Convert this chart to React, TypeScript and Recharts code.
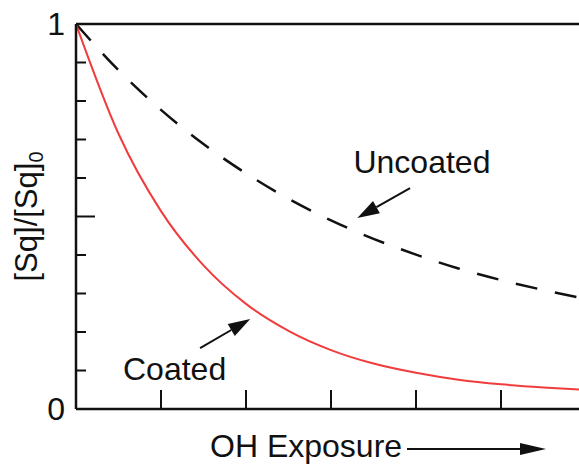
import React from 'react';
import { LineChart, Line, XAxis, YAxis, ReferenceLine, ReferenceDot } from 'recharts';

// OH exposure (arbitrary units) and normalised squalane remaining
const exposure = [0, 0.5, 1, 1.5, 2, 2.5, 3, 3.5, 4, 4.5, 5, 5.5, 6];
const uncoated = [1, 0.88, 0.777, 0.688, 0.612, 0.546, 0.49, 0.442, 0.401, 0.365, 0.335, 0.309, 0.286];
const coated = [1, 0.715, 0.514, 0.373, 0.273, 0.203, 0.153, 0.118, 0.094, 0.076, 0.064, 0.056, 0.05];

const xTicks = [0, 1, 2, 3, 4, 5, 6];
const yTicks = [0, 0.1, 0.2, 0.3, 0.4, 0.5, 0.6, 0.7, 0.8, 0.9, 1];
const yLabels: Record<string, string> = { '0': '0', '1': '1' };

const rows = exposure.map((x, i) => ({ x, uncoated: uncoated[i], coated: coated[i] }));

const FONT = '"Liberation Sans", Arial, Helvetica, sans-serif';
const INK = '#111';
const RED = '#f03c3c';

// ticks point into the plot; 0.5 gets a long one
const LeftTick = (props: any) => {
  const { x, y, payload } = props;
  const major = payload.value === 0.5;
  const label = yLabels[String(payload.value)];
  return (
    <g>
      <line x1={x} y1={y} x2={x + (major ? 19 : 10)} y2={y} stroke={INK} strokeWidth={2} />
      {label && (
        <text x={x - 11} y={y + 11} textAnchor="end" fontSize={32} fontFamily={FONT} fill={INK}>
          {label}
        </text>
      )}
    </g>
  );
};

const RightTick = (props: any) => {
  const { x, y, payload } = props;
  const major = payload.value === 0.5;
  return <line x1={x} y1={y} x2={x - (major ? 19 : 10)} y2={y} stroke={INK} strokeWidth={2} />;
};

const BottomTick = (props: any) => {
  const { x, y } = props;
  return <line x1={x} y1={y} x2={x} y2={y - 19} stroke={INK} strokeWidth={2} />;
};

const Arrow = (props: any) => {
  const { x1, y1, x2, y2 } = props;
  const dx = x2 - x1;
  const dy = y2 - y1;
  const len = Math.sqrt(dx * dx + dy * dy) || 1;
  const ux = dx / len;
  const uy = dy / len;
  const head = 22;
  const half = 7;
  const bx = x2 - ux * head;
  const by = y2 - uy * head;
  return (
    <g>
      <line x1={x1} y1={y1} x2={bx} y2={by} stroke={INK} strokeWidth={2} />
      <polygon
        points={`${x2},${y2} ${bx - uy * half},${by + ux * half} ${bx + uy * half},${by - ux * half}`}
        fill={INK}
      />
    </g>
  );
};

const textAt = (text: string) => (props: any) => (
  <text x={props.cx} y={props.cy} textAnchor="middle" fontSize={32} fontFamily={FONT} fill={INK}>
    {text}
  </text>
);

const XTitle = (props: any) => {
  const { x, y } = props.viewBox;
  const ay = y + 40;
  return (
    <g>
      <text x={x + 134} y={y + 48} fontSize={32} fontFamily={FONT} fill={INK}>
        OH Exposure
      </text>
      <line x1={x + 331} y1={ay} x2={x + 446} y2={ay} stroke={INK} strokeWidth={2} />
      <polygon points={`${x + 470},${ay} ${x + 444},${ay - 6} ${x + 444},${ay + 6}`} fill={INK} />
    </g>
  );
};

const YTitle = (props: any) => {
  const { x, y, height } = props.viewBox;
  const cx = x + 37;
  const cy = y + height / 2;
  return (
    <text
      x={cx}
      y={cy}
      transform={`rotate(-90, ${cx}, ${cy})`}
      textAnchor="middle"
      fontSize={31}
      fontFamily={FONT}
      fill={INK}
    >
      [Sq]/[Sq]
      <tspan fontSize={20} dy={6}>0</tspan>
    </text>
  );
};

export default function App() {
  const axisLine = { stroke: INK, strokeWidth: 2.5 };
  return (
    <div
      style={{
        position: 'fixed',
        left: 0,
        top: 0,
        width: 579,
        height: 466,
        overflow: 'hidden',
        background: '#fff',
      }}
    >
      <LineChart width={600} height={466} data={rows} margin={{ top: 23, right: 0, bottom: 0, left: 0 }}>
        <XAxis
          xAxisId="b"
          dataKey="x"
          type="number"
          domain={[0, 6]}
          ticks={xTicks}
          height={57}
          axisLine={axisLine}
          tickLine={false}
          tickSize={0}
          tickMargin={0}
          tick={<BottomTick />}
          label={{ content: XTitle }}
        />
        <XAxis
          xAxisId="t"
          orientation="top"
          dataKey="x"
          type="number"
          domain={[0, 6]}
          height={1}
          axisLine={axisLine}
          tickLine={false}
          tick={false}
        />
        <YAxis
          yAxisId="l"
          type="number"
          domain={[0, 1]}
          ticks={yTicks}
          width={76}
          axisLine={axisLine}
          tickLine={false}
          tickSize={0}
          tickMargin={0}
          tick={<LeftTick />}
          label={{ content: YTitle }}
        />
        <YAxis
          yAxisId="r"
          orientation="right"
          type="number"
          domain={[0, 1]}
          ticks={yTicks}
          width={14}
          axisLine={axisLine}
          tickLine={false}
          tickSize={0}
          tickMargin={0}
          tick={<RightTick />}
        />
        <Line
          xAxisId="b"
          yAxisId="l"
          type="monotone"
          dataKey="uncoated"
          stroke={INK}
          strokeWidth={2.5}
          strokeDasharray="22 18"
          dot={false}
          isAnimationActive={false}
        />
        <Line
          xAxisId="b"
          yAxisId="l"
          type="monotone"
          dataKey="coated"
          stroke={RED}
          strokeWidth={2}
          dot={false}
          isAnimationActive={false}
        />
        <ReferenceLine
          xAxisId="b"
          yAxisId="l"
          segment={[{ x: 3.93, y: 0.574 }, { x: 3.31, y: 0.496 }]}
          shape={Arrow}
        />
        <ReferenceLine
          xAxisId="b"
          yAxisId="l"
          segment={[{ x: 1.46, y: 0.158 }, { x: 2.05, y: 0.234 }]}
          shape={Arrow}
        />
        <ReferenceDot xAxisId="b" yAxisId="l" x={4.07} y={0.613} shape={textAt('Uncoated')} />
        <ReferenceDot xAxisId="b" yAxisId="l" x={1.16} y={0.075} shape={textAt('Coated')} />
      </LineChart>
    </div>
  );
}
